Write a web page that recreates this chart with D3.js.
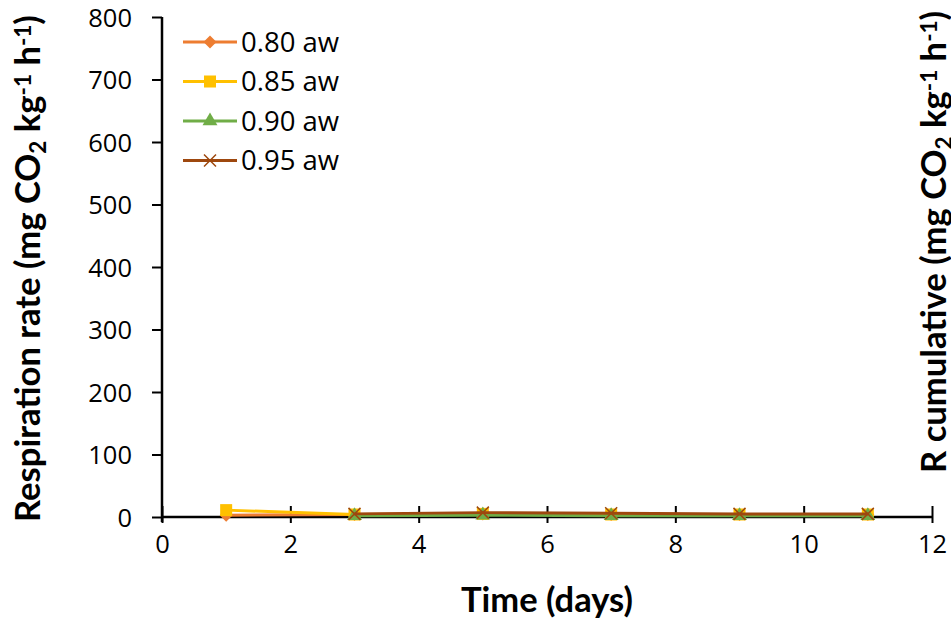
<!DOCTYPE html>
<html>
<head>
<meta charset="utf-8">
<script src="https://cdn.jsdelivr.net/npm/d3@7"></script>
<style>
  body { margin: 0; background: #fff; }
  text { font-family: "Open Sans", Lato, sans-serif; fill: #000; }
  .title { font-family: Lato, "Open Sans", sans-serif; font-weight: bold; }
</style>
</head>
<body>
<svg id="chart" width="951" height="623"></svg>
<script>
// data
const seriesNames = ['0.80 aw', '0.85 aw', '0.90 aw', '0.95 aw'];
const seriesColors = ['#ED7D31', '#FFC000', '#70AD47', '#9E480E'];
const markerKinds = ['diamond', 'square', 'triangle', 'cross'];
const days = [1, 3, 5, 7, 9, 11];
const rate080 = [3, 4, 5, 4, 4, 4];
const rate085 = [11, 4, 5, 4, 4, 4];
const rate090 = [null, 2, 3, 2, 2, 2];
const rate095 = [null, 5, 7, 6, 5, 5];
const xTicks = [0, 2, 4, 6, 8, 10, 12];
const yTicks = [0, 100, 200, 300, 400, 500, 600, 700, 800];

const allRates = [rate080, rate085, rate090, rate095];

const svg = d3.select('#chart');
const x = d3.scaleLinear().domain([0, 12]).range([162, 932]);
const y = d3.scaleLinear().domain([0, 800]).range([517, 17]);

// y axis
const yAxis = svg.append('g').attr('transform', 'translate(162,0)')
    .call(d3.axisLeft(y).tickValues(yTicks).tickSize(10).tickPadding(20).tickFormat(d3.format('d')));
yAxis.select('.domain').attr('d', 'M0,17V522');
yAxis.selectAll('text').style('font-size', '25.5px').attr('dy', '0.36em');

// x axis
const xAxis = svg.append('g').attr('transform', 'translate(0,517)')
    .call(d3.axisBottom(x).tickValues(xTicks).tickSize(6).tickPadding(12).tickFormat(d3.format('d')));
xAxis.select('.domain').attr('d', 'M162,0H932');
xAxis.selectAll('.tick line').attr('y1', -11).attr('y2', 6);
xAxis.selectAll('text').style('font-size', '25.5px');

svg.selectAll('.tick line').attr('stroke', '#000').attr('stroke-width', 2);
svg.selectAll('.domain').attr('stroke', '#000').attr('stroke-width', 2.5);

// markers
function drawMarker(g, kind, color, size) {
    if (kind === 'diamond') {
        g.append('path').attr('d', d3.symbol(d3.symbolDiamond2, size * 9)()).attr('fill', color);
    } else if (kind === 'square') {
        g.append('rect').attr('x', -size / 2).attr('y', -size / 2).attr('width', size).attr('height', size).attr('fill', color);
    } else if (kind === 'triangle') {
        g.append('path').attr('d', d3.symbol(d3.symbolTriangle, size * 8)()).attr('fill', color);
    } else {
        const h = size / 2;
        g.append('path').attr('d', `M${-h},${-h}L${h},${h}M${-h},${h}L${h},${-h}`)
            .attr('stroke', color).attr('stroke-width', 1.5).attr('fill', 'none');
    }
}

const line = d3.line().defined(d => d.v != null).x(d => x(d.t)).y(d => y(d.v));

allRates.forEach((vals, i) => {
    const pts = days.map((t, j) => ({ t, v: vals[j] }));
    const g = svg.append('g');
    g.append('path').datum(pts).attr('d', line)
        .attr('fill', 'none').attr('stroke', seriesColors[i]).attr('stroke-width', 3);
    g.selectAll('g.m').data(pts.filter(d => d.v != null)).join('g')
        .attr('transform', d => `translate(${x(d.t)},${y(d.v)})`)
        .each(function () { drawMarker(d3.select(this), markerKinds[i], seriesColors[i], 12); });
});

// legend
const legend = svg.append('g').attr('transform', 'translate(183,42)');
seriesNames.forEach((name, i) => {
    const row = legend.append('g').attr('transform', `translate(0,${i * 39.5})`);
    row.append('line').attr('x1', 0).attr('x2', 54).attr('stroke', seriesColors[i]).attr('stroke-width', 3);
    drawMarker(row.append('g').attr('transform', 'translate(27,0)'), markerKinds[i], seriesColors[i], 12);
    row.append('text').attr('x', 58).attr('dy', '0.36em').style('font-size', '27.5px').text(name);
});

// scale a text's font so it spans the wanted length
function fitText(t, base, len) {
    t.style('font-size', base + 'px');
    const w = t.node().getComputedTextLength();
    t.style('font-size', (base * len / w) + 'px');
}

// axis titles
const xt = svg.append('text').attr('class', 'title').attr('x', 547).attr('y', 612)
    .attr('text-anchor', 'middle').text('Time (days)');
fitText(xt, 28, 172);

function unitLabel(t, lead) {
    t.append('tspan').text(lead + ' (mg CO');
    t.append('tspan').attr('baseline-shift', '-25%').style('font-size', '0.65em').text('2');
    t.append('tspan').text(' kg');
    t.append('tspan').attr('baseline-shift', '40%').style('font-size', '0.65em').text('-1');
    t.append('tspan').text(' h');
    t.append('tspan').attr('baseline-shift', '40%').style('font-size', '0.65em').text('-1');
    t.append('tspan').text(')');
}

const yl = svg.append('text').attr('class', 'title').attr('transform', 'translate(40,522) rotate(-90)')
    .attr('text-anchor', 'start');
unitLabel(yl, 'Respiration rate');
fitText(yl, 30, 507);

// right-hand title, cut by the picture's edge as in the original
const yr = svg.append('text').attr('class', 'title').attr('transform', 'translate(946,473) rotate(-90)')
    .attr('text-anchor', 'start');
unitLabel(yr, 'R cumulative');
yr.style('font-size', yl.style('font-size'));
</script>
</body>
</html>
